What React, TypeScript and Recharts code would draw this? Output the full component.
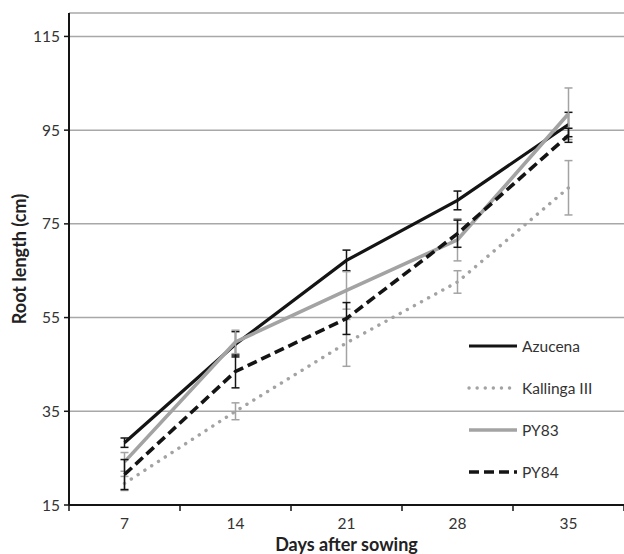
import { LineChart, Line, XAxis, YAxis, CartesianGrid, ErrorBar, Label } from 'recharts';

// days after sowing
const days = [7, 14, 21, 28, 35];

// root length (cm) per variety, with error bars
const azucena = [28.3, 49.3, 67.2, 80.0, 96.2];
const azucenaErr = [1.0, 2.7, 2.2, 2.0, 2.6];
const kallinga = [19.6, 35.0, 49.6, 62.6, 82.7];
const kallingaErr = [1.5, 1.8, 5.0, 2.4, 5.8];
const py83 = [24.2, 49.8, 60.8, 71.6, 98.5];
const py83Err = [2.0, 2.5, 4.0, 4.5, 5.5];
const py84 = [21.5, 43.5, 54.8, 72.9, 93.9];
const py84Err = [3.2, 3.5, 3.4, 2.9, 1.5];

const yTicks = [15, 35, 55, 75, 95, 115];
const xTicks = [3.5, 7, 10.5, 14, 17.5, 21, 24.5, 28, 31.5, 35, 38.5];

const data = days.map((d, i) => ({
  day: d,
  az: azucena[i],
  azE: azucenaErr[i],
  ka: kallinga[i],
  kaE: kallingaErr[i],
  p83: py83[i],
  p83E: py83Err[i],
  p84: py84[i],
  p84E: py84Err[i],
}));

const font = 'Lato, "Open Sans", sans-serif';
const dark = '#141414';
const grey = '#a3a3a3';

const series = [
  { key: 'az', name: 'Azucena', color: dark, width: 3.2, dash: undefined, cap: 'butt' },
  { key: 'ka', name: 'Kallinga III', color: grey, width: 3.4, dash: '0.1 8', cap: 'round' },
  { key: 'p83', name: 'PY83', color: grey, width: 3.6, dash: undefined, cap: 'butt' },
  { key: 'p84', name: 'PY84', color: dark, width: 3.6, dash: '10 5', cap: 'butt' },
];

const XTick = (props: any) => {
  const { x, y, payload } = props;
  if (days.includes(payload.value)) {
    return (
      <text x={x} y={y + 5} dy="0.71em" textAnchor="middle" fill="#333" fontSize={15.5} fontFamily={font}>
        {payload.value}
      </text>
    );
  }
  return <line x1={x} x2={x} y1={y - 8} y2={y - 2} stroke={dark} strokeWidth={1.5} />;
};

// legend drawn over the plot, no background
const LegendBox = () => (
  <div style={{ position: 'absolute', left: 467, top: 325, fontFamily: font, fontSize: 15.5, color: '#333' }}>
    {series.map((s) => (
      <div key={s.key} style={{ display: 'flex', alignItems: 'center', height: 42 }}>
        <svg width={55} height={10}>
          <line
            x1={2}
            x2={50}
            y1={5}
            y2={5}
            stroke={s.color}
            strokeWidth={s.width}
            strokeDasharray={s.dash}
            strokeLinecap={s.cap as any}
          />
        </svg>
        <span>{s.name}</span>
      </div>
    ))}
  </div>
);

export default function App() {
  return (
    <div style={{ position: 'absolute', left: 0, top: 0, width: 624, height: 554, background: '#fff' }}>
      <LineChart width={624} height={554} data={data} margin={{ top: 13, right: 0, left: 0, bottom: 0 }}>
        <CartesianGrid vertical={false} stroke="#a8a8a8" strokeWidth={1.5} />
        <XAxis
          dataKey="day"
          type="number"
          domain={[3.5, 38.5]}
          ticks={xTicks}
          interval={0}
          height={49}
          tick={<XTick />}
          tickLine={false}
          axisLine={{ stroke: dark, strokeWidth: 2 }}
        >
          <Label
            value="Days after sowing"
            position="insideBottom"
            offset={3}
            style={{ fontFamily: font, fontSize: 18, fontWeight: 700, fill: '#222' }}
          />
        </XAxis>
        <YAxis
          type="number"
          domain={[15, 120]}
          ticks={yTicks}
          interval={0}
          width={69}
          tickSize={5}
          tickMargin={4}
          tick={{ fill: '#333', fontSize: 15.5, fontFamily: font }}
          tickLine={{ stroke: dark, strokeWidth: 1.5 }}
          axisLine={{ stroke: dark, strokeWidth: 2 }}
        >
          <Label
            value="Root length (cm)"
            angle={-90}
            position="insideLeft"
            offset={20}
            style={{ textAnchor: 'middle', fontFamily: font, fontSize: 18, fontWeight: 700, fill: '#222' }}
          />
        </YAxis>
        {series.map((s) => (
          <Line
            key={s.key}
            type="linear"
            dataKey={s.key}
            name={s.name}
            stroke={s.color}
            strokeWidth={s.width}
            strokeDasharray={s.dash}
            strokeLinecap={s.cap as any}
            dot={false}
            activeDot={false}
            isAnimationActive={false}
          >
            <ErrorBar dataKey={s.key + 'E'} direction="y" width={4} stroke={s.color} strokeWidth={1.5} />
          </Line>
        ))}
      </LineChart>
      <LegendBox />
    </div>
  );
}
